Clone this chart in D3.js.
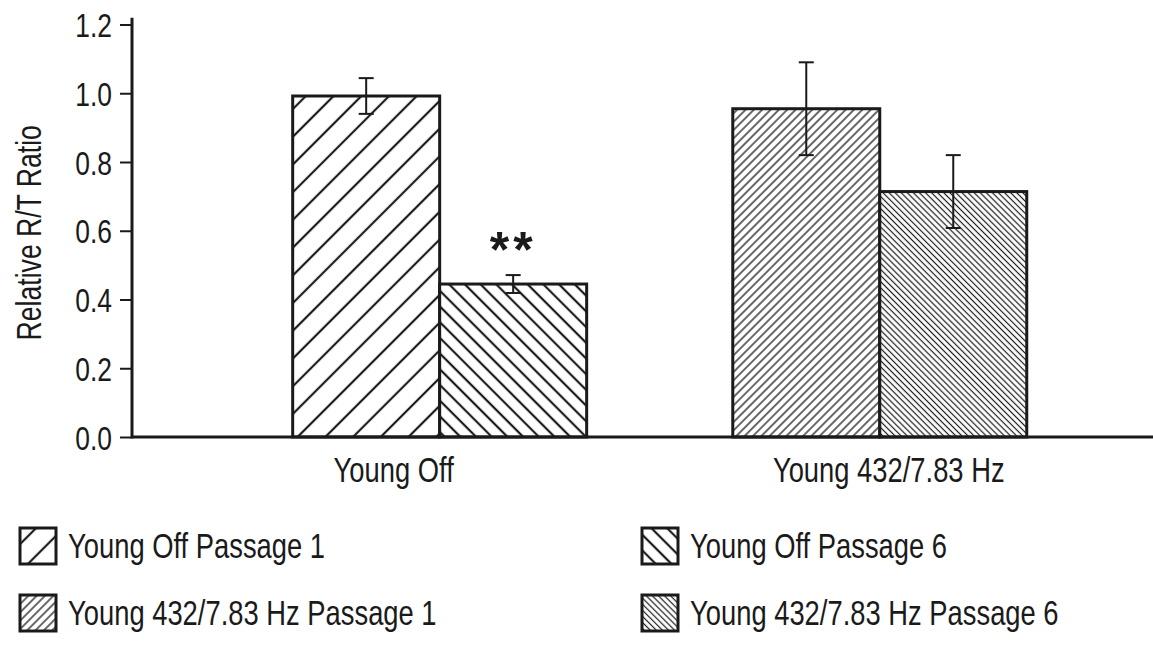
<!DOCTYPE html>
<html>
<head>
<meta charset="utf-8">
<script src="https://cdn.jsdelivr.net/npm/d3@7"></script>
<style>
  body { margin: 0; background: #fff; }
  text { font-family: "Liberation Sans", Arial, sans-serif; fill: #1a1a1a; }
</style>
</head>
<body>
<div id="chart"></div>
<script>
// data
var groups = ["Young Off", "Young 432/7.83 Hz"];
var passages = ["Passage 1", "Passage 6"];
var means = [[0.992, 0.445], [0.955, 0.714]];
var errs = [[0.052, 0.026], [0.135, 0.106]];
var yTicks = [0.0, 0.2, 0.4, 0.6, 0.8, 1.0, 1.2];
var legendLabels = ["Young Off Passage 1", "Young Off Passage 6",
                    "Young 432/7.83 Hz Passage 1", "Young 432/7.83 Hz Passage 6"];
var stars = [["", "**"], ["", ""]];

var svgWidth = 1153, svgHeight = 650;
var ink = "#1a1a1a";

var svg = d3.select("#chart").append("svg")
  .attr("width", svgWidth)
  .attr("height", svgHeight);

var defs = svg.append("defs");

// hatch patterns: [id, gap, angle, stroke width]
var hatches = [
  ["h0", 19.6, 45, 2.2],
  ["h1", 11.1, -45, 2.2],
  ["h2", 5.9, 45, 1.3],
  ["h3", 4.3, -45, 1.2]
];
hatches.forEach(function(h) {
  var p = defs.append("pattern")
    .attr("id", h[0])
    .attr("patternUnits", "userSpaceOnUse")
    .attr("width", h[1]).attr("height", h[1])
    .attr("patternTransform", "rotate(" + h[2] + ")");
  p.append("rect").attr("width", h[1]).attr("height", h[1]).attr("fill", "#fff");
  p.append("line")
    .attr("x1", h[1] / 2).attr("x2", h[1] / 2)
    .attr("y1", 0).attr("y2", h[1])
    .attr("stroke", ink).attr("stroke-width", h[3]);
});

// the figure uses a condensed face, so squeeze each text horizontally
// about its own anchor point
function squeeze(sel, k) {
  sel.each(function() {
    var t = d3.select(this);
    var tx = +t.attr("x") || 0, ty = +t.attr("y") || 0;
    var rot = t.attr("data-rot") ? " rotate(" + t.attr("data-rot") + ")" : "";
    var base = t.attr("data-base") || "";
    t.attr("x", 0).attr("y", 0)
      .attr("transform", base + "translate(" + tx + "," + ty + ")" + rot + " scale(" + k + ",1)");
  });
}

var plotLeft = 132, plotRight = svgWidth, plotBottom = 437, plotTop = 24.5;

var y = d3.scaleLinear().domain([0, 1.2]).range([plotBottom, plotTop]);

var x = d3.scaleBand()
  .domain(groups)
  .range([plotLeft, plotRight])
  .paddingInner(0.332)
  .paddingOuter(0.326)
  .align(0.56);

var xSub = d3.scaleBand()
  .domain(passages)
  .range([0, x.bandwidth()]);

// y axis
var yAxis = d3.axisLeft(y)
  .tickValues(yTicks)
  .tickFormat(d3.format(".1f"))
  .tickSize(12)
  .tickPadding(8)
  .tickSizeOuter(0);

var gy = svg.append("g")
  .attr("transform", "translate(" + plotLeft + ",0)")
  .call(yAxis);
gy.select(".domain").remove();
gy.selectAll(".tick line").attr("stroke", ink).attr("stroke-width", 2);
gy.selectAll(".tick text")
  .attr("font-size", 33)
  .attr("fill", ink)
  .attr("y", 12)
  .attr("dy", null)
  .call(squeeze, 0.8);

// bars
var bars = [];
groups.forEach(function(g, gi) {
  passages.forEach(function(p, pi) {
    bars.push({ group: g, passage: p, v: means[gi][pi], e: errs[gi][pi],
                star: stars[gi][pi], pat: "h" + (gi * 2 + pi) });
  });
});

svg.selectAll(".bar")
  .data(bars)
  .enter()
  .append("rect")
  .attr("class", "bar")
  .attr("x", d => x(d.group) + xSub(d.passage))
  .attr("y", d => y(d.v))
  .attr("width", xSub.bandwidth())
  .attr("height", d => y(0) - y(d.v))
  .attr("fill", d => "url(#" + d.pat + ")")
  .attr("stroke", ink)
  .attr("stroke-width", 3);

// error bars
var capW = 7.5;
var eb = svg.selectAll(".err")
  .data(bars)
  .enter()
  .append("g")
  .attr("class", "err")
  .attr("stroke", ink)
  .attr("stroke-width", 2);

eb.append("line")
  .attr("x1", d => x(d.group) + xSub(d.passage) + xSub.bandwidth() / 2)
  .attr("x2", d => x(d.group) + xSub(d.passage) + xSub.bandwidth() / 2)
  .attr("y1", d => y(d.v + d.e))
  .attr("y2", d => y(d.v - d.e));
[1, -1].forEach(function(s) {
  eb.append("line")
    .attr("x1", d => x(d.group) + xSub(d.passage) + xSub.bandwidth() / 2 - capW)
    .attr("x2", d => x(d.group) + xSub(d.passage) + xSub.bandwidth() / 2 + capW)
    .attr("y1", d => y(d.v + s * d.e))
    .attr("y2", d => y(d.v + s * d.e));
});

// significance marks
svg.selectAll(".star")
  .data(bars.filter(d => d.star))
  .enter()
  .append("text")
  .attr("class", "star")
  .attr("x", d => x(d.group) + xSub(d.passage) + xSub.bandwidth() / 2)
  .attr("y", d => y(d.v + d.e) - 8)
  .attr("text-anchor", "middle")
  .attr("font-size", 50)
  .attr("font-weight", "bold")
  .attr("letter-spacing", 4)
  .text(d => d.star);

// axis lines
svg.append("line")
  .attr("x1", plotLeft).attr("x2", plotLeft)
  .attr("y1", y(0) + 1.5).attr("y2", y(1.22))
  .attr("stroke", ink).attr("stroke-width", 3);
svg.append("line")
  .attr("x1", plotLeft).attr("x2", plotRight)
  .attr("y1", y(0)).attr("y2", y(0))
  .attr("stroke", ink).attr("stroke-width", 3);

// category labels
var labelShift = [-46, 9];
svg.selectAll(".cat")
  .data(groups)
  .enter()
  .append("text")
  .attr("class", "cat")
  .attr("x", (d, i) => x(d) + x.bandwidth() / 2 + labelShift[i])
  .attr("y", 482)
  .attr("text-anchor", "middle")
  .attr("font-size", 36)
  .text(d => d)
  .call(squeeze, 0.76);

// y label
svg.append("text")
  .attr("x", 41)
  .attr("y", (plotTop + plotBottom) / 2 + 2)
  .attr("data-rot", -90)
  .attr("text-anchor", "middle")
  .attr("font-size", 35)
  .text("Relative R/T Ratio")
  .call(squeeze, 0.76);

// legend
var legCols = [20, 642], legRows = [558, 625];
var leg = svg.selectAll(".leg")
  .data(legendLabels)
  .enter()
  .append("g")
  .attr("class", "leg")
  .attr("transform", (d, i) => "translate(" + legCols[i % 2] + "," + legRows[Math.floor(i / 2)] + ")");

leg.append("rect")
  .attr("x", 0).attr("y", -30)
  .attr("width", 36).attr("height", 36)
  .attr("fill", (d, i) => "url(#h" + i + ")")
  .attr("stroke", ink)
  .attr("stroke-width", 3);

leg.append("text")
  .attr("x", 48)
  .attr("y", 0)
  .attr("font-size", 36)
  .text(d => d)
  .call(squeeze, 0.76);
</script>
</body>
</html>
